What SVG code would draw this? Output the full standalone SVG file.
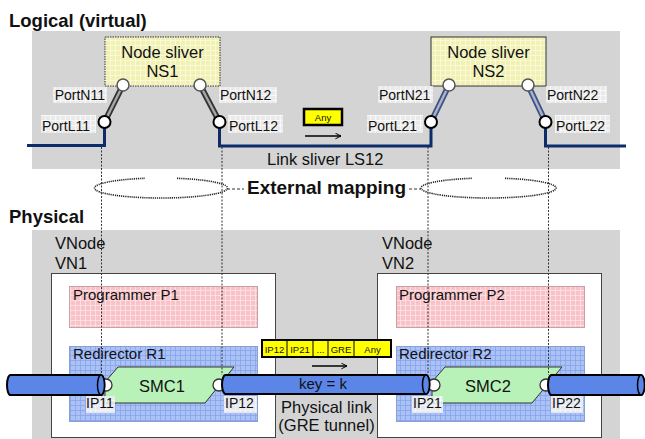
<svg xmlns="http://www.w3.org/2000/svg" width="645" height="439" viewBox="0 0 645 439">
<defs>
  <pattern id="gYellow" width="5" height="5" patternUnits="userSpaceOnUse">
    <rect width="5" height="5" fill="#f1f1b4"/>
    <path d="M0,0.5H5M0.5,0V5" stroke="#fbfbe0" stroke-width="0.8"/>
  </pattern>
  <pattern id="gPink" width="5" height="5" patternUnits="userSpaceOnUse">
    <rect width="5" height="5" fill="#f8c2c8"/>
    <path d="M0,0.5H5M0.5,0V5" stroke="#fde3e6" stroke-width="0.8"/>
  </pattern>
  <pattern id="gBlue" width="5" height="5" patternUnits="userSpaceOnUse">
    <rect width="5" height="5" fill="#abc2f6"/>
    <path d="M0,0.5H5M0.5,0V5" stroke="#86a2ea" stroke-width="0.8"/>
  </pattern>
  <pattern id="gWhite" width="5" height="5" patternUnits="userSpaceOnUse">
    <rect width="5" height="5" fill="#ececec"/>
    <path d="M0,0.5H5M0.5,0V5" stroke="#ffffff" stroke-width="0.8"/>
  </pattern>
  <marker id="openArrow" viewBox="0 0 10 10" refX="9" refY="5" markerWidth="7" markerHeight="7" orient="auto" markerUnits="userSpaceOnUse">
    <path d="M1,1 L9,5 L1,9" fill="none" stroke="#000" stroke-width="1.4"/>
  </marker>
</defs>
<style>
  text { font-family: "Liberation Sans", Arial, sans-serif; fill: #111; }
  .title { font-size: 18.5px; font-weight: bold; }
  .big { font-size: 16.5px; }
  .port { font-size: 14px; }
  .mid { font-size: 15px; }
  .pk { font-size: 9.5px; }
  .panel { fill: #d4d4d4; }
  .lbl { fill: url(#gWhite); opacity: 0.9; }
  .nport { fill: #fff; stroke: #555; stroke-width: 1.5; }
  .lport { fill: #fff; stroke: #000; stroke-width: 2; }
  .ipport { fill: #fff; stroke: #333; stroke-width: 1.3; }
  .tube { fill: #5b86e8; stroke: #000; stroke-width: 2; }
  .cap { fill: #5b86e8; stroke: #000; stroke-width: 1.5; }
  .vn { fill: #fff; stroke: #444; stroke-width: 1; }
  .prog { fill: url(#gPink); stroke: #c9a0a6; stroke-width: 1; }
  .redir { fill: url(#gBlue); stroke: #8aa0d0; stroke-width: 1; }
  .smc { fill: #b8f2b8; stroke: #333; stroke-width: 1; }
  .link { fill: none; stroke: #0f2c6a; stroke-width: 3; }
  .map { fill: none; stroke: #333; stroke-width: 1; stroke-dasharray: 2 1.5; }
  .ell { fill: none; stroke: #222; stroke-width: 1.6; stroke-dasharray: 1.2 0.9; }
  .pkt { fill: #ffff00; stroke: #000; }
</style>

<!-- panels -->
<rect class="panel" x="32" y="31" width="588" height="138"/>
<rect class="panel" x="32" y="230" width="588" height="215"/>
<text class="title" x="9" y="27">Logical (virtual)</text>
<text class="title" x="9" y="223">Physical</text>

<!-- Logical nodes -->
<g id="ns1">
  <rect x="105" y="37" width="115" height="49" fill="url(#gYellow)" stroke="#333" stroke-width="1" stroke-dasharray="1.5 1"/>
  <text class="big" x="162.5" y="58" text-anchor="middle">Node sliver</text>
  <text class="big" x="162.5" y="77" text-anchor="middle">NS1</text>
</g>
<g id="ns2">
  <rect x="431" y="37" width="115" height="49" fill="url(#gYellow)" stroke="#333" stroke-width="1"/>
  <text class="big" x="488.5" y="58" text-anchor="middle">Node sliver</text>
  <text class="big" x="488.5" y="77" text-anchor="middle">NS2</text>
</g>

<!-- connectors -->
<g id="connectors">
  <!-- logical link sliver -->
  <path class="link" d="M27,145.5 H104.5 V128"/>
  <path class="link" d="M219.5,128 V146 H431 V128"/>
  <path class="link" d="M545.5,128 V146 H626"/>
  <!-- port attachments NS1 -->
  <line x1="123" y1="85" x2="104.5" y2="122" stroke="#333" stroke-width="6"/>
  <line x1="123" y1="85" x2="104.5" y2="122" stroke="#a8a8a8" stroke-width="2.4"/>
  <line x1="200" y1="85" x2="219.5" y2="122" stroke="#333" stroke-width="6"/>
  <line x1="200" y1="85" x2="219.5" y2="122" stroke="#a8a8a8" stroke-width="2.4"/>
  <!-- port attachments NS2 -->
  <line x1="449" y1="85" x2="431" y2="122" stroke="#3d5289" stroke-width="6"/>
  <line x1="449" y1="85" x2="431" y2="122" stroke="#aeb4c4" stroke-width="2.4"/>
  <line x1="528" y1="85" x2="545.5" y2="122" stroke="#3d5289" stroke-width="6"/>
  <line x1="528" y1="85" x2="545.5" y2="122" stroke="#aeb4c4" stroke-width="2.4"/>
  <!-- external mapping -->
  <path class="ell" d="M177,178.3 A66.5 10 0 1 1 145,178.3"/>
  <path class="ell" d="M505,178.3 A67.5 10 0 1 1 472,178.3"/>
  <line x1="227" y1="189" x2="244" y2="189" stroke="#333" stroke-width="1" stroke-dasharray="3 2"/>
  <line x1="409" y1="189" x2="421" y2="189" stroke="#333" stroke-width="1" stroke-dasharray="3 2"/>
  <!-- any arrow -->
  <line x1="305" y1="136" x2="341" y2="136" stroke="#000" stroke-width="1.4" marker-end="url(#openArrow)"/>
  <line x1="312" y1="366" x2="347" y2="366" stroke="#000" stroke-width="1.4" marker-end="url(#openArrow)"/>
</g>

<!-- port circles and labels (logical) -->
<g id="portN11">
  <rect class="lbl" x="53" y="87" width="54" height="16"/>
  <text class="port" x="105" y="100" text-anchor="end">PortN11</text>
  <circle class="nport" cx="123" cy="85" r="6"/>
</g>
<g id="portN12">
  <rect class="lbl" x="219" y="87" width="58" height="16"/>
  <text class="port" x="220" y="100">PortN12</text>
  <circle class="nport" cx="200" cy="85" r="6"/>
</g>
<g id="portL11">
  <rect class="lbl" x="41" y="115" width="55" height="18"/>
  <text class="port" x="42" y="131">PortL11</text>
  <circle class="lport" cx="104.5" cy="122" r="6"/>
</g>
<g id="portL12">
  <rect class="lbl" x="228" y="115" width="55" height="18"/>
  <text class="port" x="229" y="131">PortL12</text>
  <circle class="lport" cx="219.5" cy="122" r="6"/>
</g>
<g id="portN21">
  <rect class="lbl" x="378" y="86" width="55" height="17"/>
  <text class="port" x="379" y="100">PortN21</text>
  <circle class="nport" cx="449" cy="85" r="6"/>
</g>
<g id="portN22">
  <rect class="lbl" x="546" y="86" width="61" height="17"/>
  <text class="port" x="547" y="100">PortN22</text>
  <circle class="nport" cx="528" cy="85" r="6"/>
</g>
<g id="portL21">
  <rect class="lbl" x="367" y="115" width="56" height="18"/>
  <text class="port" x="368" y="131">PortL21</text>
  <circle class="lport" cx="431" cy="122" r="6"/>
</g>
<g id="portL22">
  <rect class="lbl" x="555" y="115" width="55" height="18"/>
  <text class="port" x="556" y="131">PortL22</text>
  <circle class="lport" cx="545.5" cy="122" r="6"/>
</g>

<g id="anyPacket">
  <rect class="pkt" x="304" y="109" width="38" height="16" stroke-width="2.5"/>
  <text class="pk" x="323" y="121" text-anchor="middle">Any</text>
</g>

<text id="linkSliver" class="big" x="267" y="165">Link sliver LS12</text>
<text id="extMapping" class="title" x="247" y="194" textLength="159" lengthAdjust="spacingAndGlyphs">External mapping</text>

<!-- Physical -->
<g id="vn1">
  <text class="big" x="55" y="249">VNode</text>
  <text class="big" x="55" y="269">VN1</text>
  <rect class="vn" x="51.5" y="273.5" width="224" height="164"/>
</g>
<g id="vn2">
  <text class="big" x="382" y="249">VNode</text>
  <text class="big" x="382" y="269">VN2</text>
  <rect class="vn" x="377.5" y="273.5" width="224" height="164"/>
</g>
<g id="p1">
  <rect class="prog" x="69.5" y="286.5" width="188" height="41"/>
  <text class="mid" x="73" y="300">Programmer P1</text>
</g>
<g id="p2">
  <rect class="prog" x="396.5" y="286.5" width="188" height="41"/>
  <text class="mid" x="399" y="300">Programmer P2</text>
</g>
<g id="r1">
  <rect class="redir" x="69.5" y="346.5" width="188" height="75"/>
  <text class="mid" x="73" y="359">Redirector R1</text>
</g>
<g id="r2">
  <rect class="redir" x="396.5" y="346.5" width="188" height="75"/>
  <text class="mid" x="399" y="359">Redirector R2</text>
</g>
<g id="smc1">
  <polygon class="smc" points="118,367 234,367 205,403 105,403 105,382"/>
  <text class="big" x="162" y="392" text-anchor="middle">SMC1</text>
</g>
<g id="smc2">
  <polygon class="smc" points="445,367 562,367 532,403 432,403 432,382"/>
  <text class="big" x="488" y="392" text-anchor="middle">SMC2</text>
</g>

<g id="ip11">
  <rect class="lbl" x="86" y="396" width="29" height="17" opacity="0.7"/>
  <text class="port" x="86" y="408">IP11</text>
  <circle class="ipport" cx="106" cy="385" r="6"/>
</g>
<g id="ip12">
  <rect class="lbl" x="224" y="396" width="33" height="17" opacity="0.7"/>
  <text class="port" x="225" y="408">IP12</text>
  <circle class="ipport" cx="219" cy="385" r="6"/>
</g>
<g id="ip21">
  <rect class="lbl" x="412" y="396" width="31" height="17" opacity="0.7"/>
  <text class="port" x="413" y="408">IP21</text>
  <circle class="ipport" cx="434" cy="385" r="6"/>
</g>
<g id="ip22">
  <rect class="lbl" x="551" y="396" width="32" height="17" opacity="0.7"/>
  <text class="port" x="552" y="408">IP22</text>
  <circle class="ipport" cx="546" cy="385" r="6"/>
</g>

<!-- tubes -->
<g id="tubeLeft">
  <path class="tube" d="M10.5,375 H101 A3.5 10 0 0 1 101,395 H10.5 A3.5 10 0 0 1 10.5,375 Z"/>
  <ellipse class="cap" cx="101" cy="385" rx="3.5" ry="10"/>
</g>
<g id="tubeMiddle">
  <path class="tube" d="M225.5,375 H426 A3.5 9.5 0 0 1 426,394 H225.5 A3.5 9.5 0 0 1 225.5,375 Z"/>
  <ellipse class="cap" cx="426" cy="384.5" rx="3.5" ry="9.5"/>
  <text class="mid" x="323" y="389" text-anchor="middle">key = k</text>
</g>
<g id="tubeRight">
  <path class="tube" d="M551.5,375 H641 A3.5 10 0 0 1 641,395 H551.5 A3.5 10 0 0 1 551.5,375 Z"/>
  <ellipse class="cap" cx="641" cy="385" rx="3.5" ry="10"/>
</g>

<g id="greHeader">
  <rect class="pkt" x="262" y="340" width="129" height="17" stroke-width="2"/>
  <path d="M287,340V357M313,340V357M328,340V357M354,340V357" stroke="#000" stroke-width="1"/>
  <text class="pk" x="274.5" y="353" text-anchor="middle">IP12</text>
  <text class="pk" x="300" y="353" text-anchor="middle">IP21</text>
  <text class="pk" x="320.5" y="353" text-anchor="middle">...</text>
  <text class="pk" x="341" y="353" text-anchor="middle">GRE</text>
  <text class="pk" x="372.5" y="353" text-anchor="middle">Any</text>
</g>

<g id="physLinkLabel">
  <text class="big" x="326.5" y="413" text-anchor="middle">Physical link</text>
  <text class="big" x="326.5" y="431" text-anchor="middle">(GRE tunnel)</text>
</g>

<!-- mapping verticals -->
<g id="mappingLines">
  <line class="map" x1="101.5" y1="147" x2="101.5" y2="375"/>
  <line class="map" x1="222" y1="147" x2="222" y2="375"/>
  <line class="map" x1="428" y1="147" x2="428" y2="375"/>
  <line class="map" x1="548.5" y1="147" x2="548.5" y2="375"/>
</g>
</svg>
